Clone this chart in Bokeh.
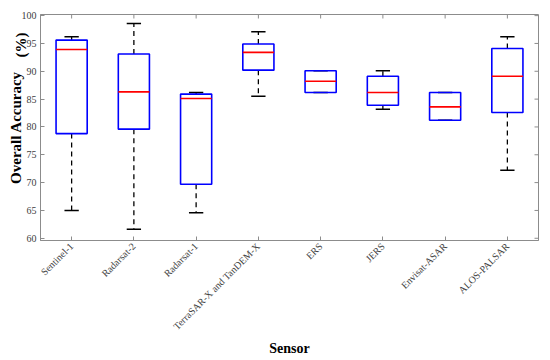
import math
from bokeh.plotting import figure
from bokeh.models import Range1d, FixedTicker
from bokeh.embed import file_html
from bokeh.resources import INLINE

sensors = ["Sentinel-1", "Radarsat-2", "Radarsat-1", "TerraSAR-X and TanDEM-X",
           "ERS", "JERS", "Envisat-ASAR", "ALOS-PALSAR"]
whisker_hi = [96.2, 98.6, 86.2, 97.1, 90.1, 90.1, 86.2, 96.2]
q3 = [95.6, 93.1, 85.9, 94.9, 90.1, 89.1, 86.2, 94.1]
median = [93.9, 86.3, 85.1, 93.4, 88.2, 86.2, 83.6, 89.1]
q1 = [78.8, 79.6, 69.7, 90.2, 86.2, 83.9, 81.2, 82.6]
whisker_lo = [65.0, 61.6, 64.6, 85.5, 86.2, 83.2, 81.2, 72.2]
y_ticks = [60, 65, 70, 75, 80, 85, 90, 95, 100]
y_title = "Overall Accuracy"
y_unit = "(%)"
x_title = "Sensor"

pos = list(range(1, len(sensors) + 1))
box_w = 0.5
cap_w = 0.23
X0, X1, Y0, Y1 = 0.5, 8.5, 59.6, 100.2

p = figure(width=550, height=360, output_backend="svg", toolbar_location=None,
           x_range=Range1d(X0, X1), y_range=Range1d(Y0, Y1),
           min_border_left=40, min_border_right=12, min_border_top=14, min_border_bottom=120)
p.background_fill_color = "white"
p.border_fill_color = "white"
p.outline_line_color = "#8c8c8c"
p.outline_line_width = 1
p.xgrid.visible = False
p.ygrid.visible = False

# inward ticks on top and right edges
p.ray(x=pos, y=[Y1] * len(pos), length=4, length_units="screen", angle=-math.pi / 2,
      line_color="#8c8c8c", line_width=1)
p.ray(x=[X1] * len(y_ticks), y=y_ticks, length=4, length_units="screen", angle=math.pi,
      line_color="#8c8c8c", line_width=1)

# whiskers
p.segment(pos, q3, pos, whisker_hi, line_color="black", line_width=1.3, line_dash="5 4")
p.segment(pos, q1, pos, whisker_lo, line_color="black", line_width=1.3, line_dash="5 4")
p.segment([x - cap_w / 2 for x in pos], whisker_hi, [x + cap_w / 2 for x in pos], whisker_hi,
          line_color="black", line_width=1.5)
p.segment([x - cap_w / 2 for x in pos], whisker_lo, [x + cap_w / 2 for x in pos], whisker_lo,
          line_color="black", line_width=1.5)
# boxes
p.quad(left=[x - box_w / 2 for x in pos], right=[x + box_w / 2 for x in pos],
       bottom=q1, top=q3, fill_color=None, line_color="#0000ff", line_width=1.6)
# medians
p.segment([x - box_w / 2 for x in pos], median, [x + box_w / 2 for x in pos], median,
          line_color="#ff0000", line_width=1.6)

for ax in (p.xaxis[0], p.yaxis[0]):
    ax.axis_line_color = "#8c8c8c"
    ax.major_tick_line_color = "#8c8c8c"
    ax.major_tick_in = 4
    ax.major_tick_out = 0
    ax.minor_tick_line_color = None
    ax.major_label_text_font = "Liberation Serif"
    ax.major_label_text_color = "#404040"
    ax.axis_label_text_font = "Liberation Serif"
    ax.axis_label_text_font_style = "bold"
    ax.axis_label_text_color = "black"

p.xaxis.ticker = FixedTicker(ticks=pos)
p.xaxis.major_label_overrides = {x: s for x, s in zip(pos, sensors)}
p.xaxis.major_label_orientation = math.pi / 4
p.xaxis.major_label_text_font_size = "10px"
p.xaxis.major_label_standoff = 4
p.xaxis.axis_label = x_title
p.xaxis.axis_label_text_font_size = "14px"
p.xaxis.axis_label_standoff = 2

p.yaxis.ticker = FixedTicker(ticks=y_ticks)
p.yaxis.major_label_text_font_size = "10px"
p.yaxis.major_label_standoff = 4
# second line carries the unit, pushed toward the top end with no-break spaces
p.yaxis.axis_label = y_title + "\n" + "\u00a0" * 44 + y_unit
p.yaxis.axis_label_text_font_size = "15px"
p.yaxis.axis_label_text_line_height = 0.3
p.yaxis.axis_label_standoff = -10

open("out.html", "w").write(file_html(p, INLINE))
